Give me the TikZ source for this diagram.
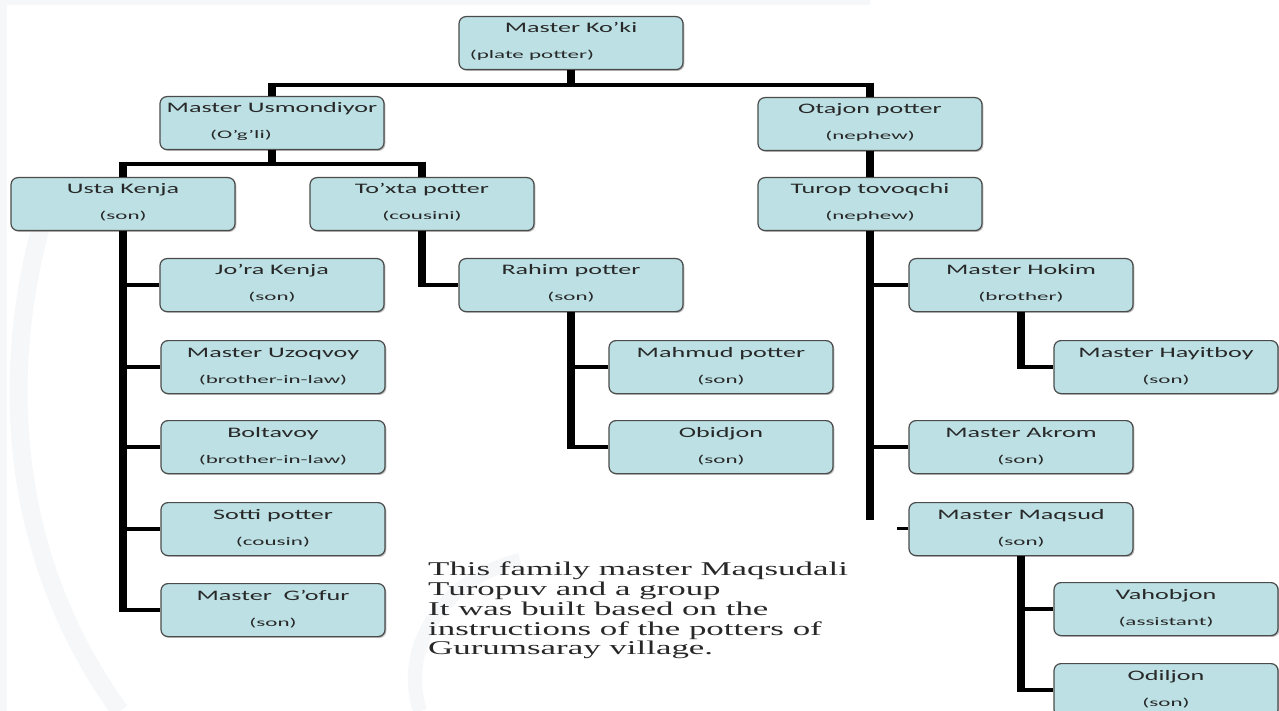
\documentclass[tikz,border=0pt]{standalone}
\usepackage{fontspec}
\setmainfont{Liberation Serif}
\newfontfamily\fa[FakeStretch=1.8]{Carlito}
\newfontfamily\fb[FakeStretch=2.0]{Carlito}
\newfontfamily\fs[FakeStretch=1.79]{Liberation Serif}
\usetikzlibrary{calc,shadows}
\definecolor{boxfill}{RGB}{188,224,228}
\definecolor{boxline}{RGB}{75,75,75}
\definecolor{txt}{RGB}{40,40,40}
\definecolor{wm}{RGB}{246,247,249}
\newcommand{\person}[6]{%
  \node[pbox, anchor=north] (#1) at (#2,#3) {};
  \node[ta, anchor=base] (#1-a) at ($(#1.north)+(0,17)$) {#4};
  \node[tb, anchor=base] (#1-b) at ($(#1.north)+(#6,43)$) {#5};
}
\begin{document}
\begin{tikzpicture}[x=1pt,y=-1pt,
  pbox/.style={rounded corners=7pt, draw=boxline, line width=1.2pt, fill=boxfill,
    minimum width=224pt, minimum height=53pt, inner sep=0pt,
    drop shadow={shadow xshift=1.3pt, shadow yshift=-1.3pt, opacity=.4, fill=black!70}},
  ta/.style={font=\fa\fontsize{14.5}{17}\selectfont, text=txt, inner sep=0pt},
  tb/.style={font=\fb\fontsize{11.5}{14}\selectfont, text=txt, inner sep=0pt},
  vl/.style={line width=8pt},
  hl/.style={line width=4.5pt}]
\clip (0,0) rectangle (1279,711);
\fill[white] (0,0) rectangle (1279,711);
% faint watermark
\fill[wm] (0,0) rectangle (870,5);
\fill[wm] (0,5) rectangle (7,711);
\draw[wm, line width=18pt] (40,230) .. controls (0,380) and (10,560) .. (120,711);
\draw[wm, line width=14pt] (520,560) .. controls (440,580) and (400,650) .. (420,711);

% boxes
\person{koki}{571}{16}{Master Ko’ki}{(plate potter)}{-39}
\person{usm}{272}{96}{Master Usmondiyor}{(O’g’li)}{-31}
\person{otajon}{870}{97}{Otajon potter}{(nephew)}{0}
\person{usta}{123}{177}{Usta Kenja}{(son)}{0}
\person{toxta}{422}{177}{To’xta potter}{(cousini)}{0}
\person{turop}{870}{177}{Turop tovoqchi}{(nephew)}{0}
\person{jora}{272}{258}{Jo’ra Kenja}{(son)}{0}
\person{rahim}{571}{258}{Rahim potter}{(son)}{0}
\person{hokim}{1021}{258}{Master Hokim}{(brother)}{0}
\person{uzoq}{273}{340}{Master Uzoqvoy}{(brother-in-law)}{0}
\person{mahmud}{721}{340}{Mahmud potter}{(son)}{0}
\person{hayit}{1166}{340}{Master Hayitboy}{(son)}{0}
\person{bolt}{273}{420}{Boltavoy}{(brother-in-law)}{0}
\person{obid}{721}{420}{Obidjon}{(son)}{0}
\person{akrom}{1021}{420}{Master Akrom}{(son)}{0}
\person{sotti}{273}{502}{Sotti potter}{(cousin)}{0}
\person{maqsud}{1021}{502}{Master Maqsud}{(son)}{0}
\person{gofur}{273}{583}{Master\ \ G’ofur}{(son)}{0}
\person{vahob}{1166}{582}{Vahobjon}{(assistant)}{0}
\person{odil}{1166}{663}{Odiljon}{(son)}{0}

% connectors: level 1
\coordinate (j0) at (571,85);
\draw[vl] (koki.south) -- ($(j0)+(0,2.25)$);
\draw[hl] ($(usm.north|-j0)+(-4,0)$) -- ($(otajon.north|-j0)+(4,0)$);
\draw[vl] ($(usm.north|-j0)+(0,-2.25)$) -- (usm.north);
\draw[vl] ($(otajon.north|-j0)+(0,-2.25)$) -- (otajon.north);
% level 2
\coordinate (j1) at (272,164);
\draw[vl] (usm.south) -- ($(j1)+(0,2.25)$);
\draw[hl] ($(usta.north|-j1)+(-4,0)$) -- ($(toxta.north|-j1)+(4,0)$);
\draw[vl] ($(usta.north|-j1)+(0,-2.25)$) -- (usta.north);
\draw[vl] ($(toxta.north|-j1)+(0,-2.25)$) -- (toxta.north);
\draw[vl] (otajon.south) -- (turop.north);
% Usta Kenja branch
\draw[vl] (usta.south) -- ($(usta.south|-gofur.west)+(0,2.25)$);
\foreach \n in {jora,uzoq,bolt,sotti,gofur} \draw[hl] (usta.south|-\n.west) -- (\n.west);
% To'xta branch
\draw[vl] (toxta.south) -- ($(toxta.south|-rahim.west)+(0,2.25)$);
\draw[hl] (toxta.south|-rahim.west) -- (rahim.west);
% Rahim branch
\draw[vl] (rahim.south) -- ($(rahim.south|-obid.west)+(0,2.25)$);
\foreach \n in {mahmud,obid} \draw[hl] (rahim.south|-\n.west) -- (\n.west);
% Turop branch
\coordinate (tend) at (870,520);
\draw[vl] (turop.south) -- (tend);
\foreach \n in {hokim,akrom} \draw[hl] (turop.south|-\n.west) -- (\n.west);
\coordinate (stub) at (897,528);
\draw[line width=3pt] (stub) -- (stub-|maqsud.west);
% Hokim branch
\draw[vl] (hokim.south) -- ($(hokim.south|-hayit.west)+(0,2.25)$);
\draw[hl] (hokim.south|-hayit.west) -- (hayit.west);
% Maqsud branch
\draw[vl] (maqsud.south) -- ($(maqsud.south|-odil.west)+(0,2.25)$);
\foreach \n in {vahob,odil} \draw[hl] (maqsud.south|-\n.west) -- (\n.west);

% note
\node[anchor=north west, align=left, inner sep=0pt, text=txt,
  font=\fs\fontsize{19.5}{19.7}\selectfont] (note) at (428,562)
  {This family master Maqsudali\\Turopuv and a group\\It was built based on the\\instructions of the potters of\\Gurumsaray village.};
\end{tikzpicture}
\end{document}
